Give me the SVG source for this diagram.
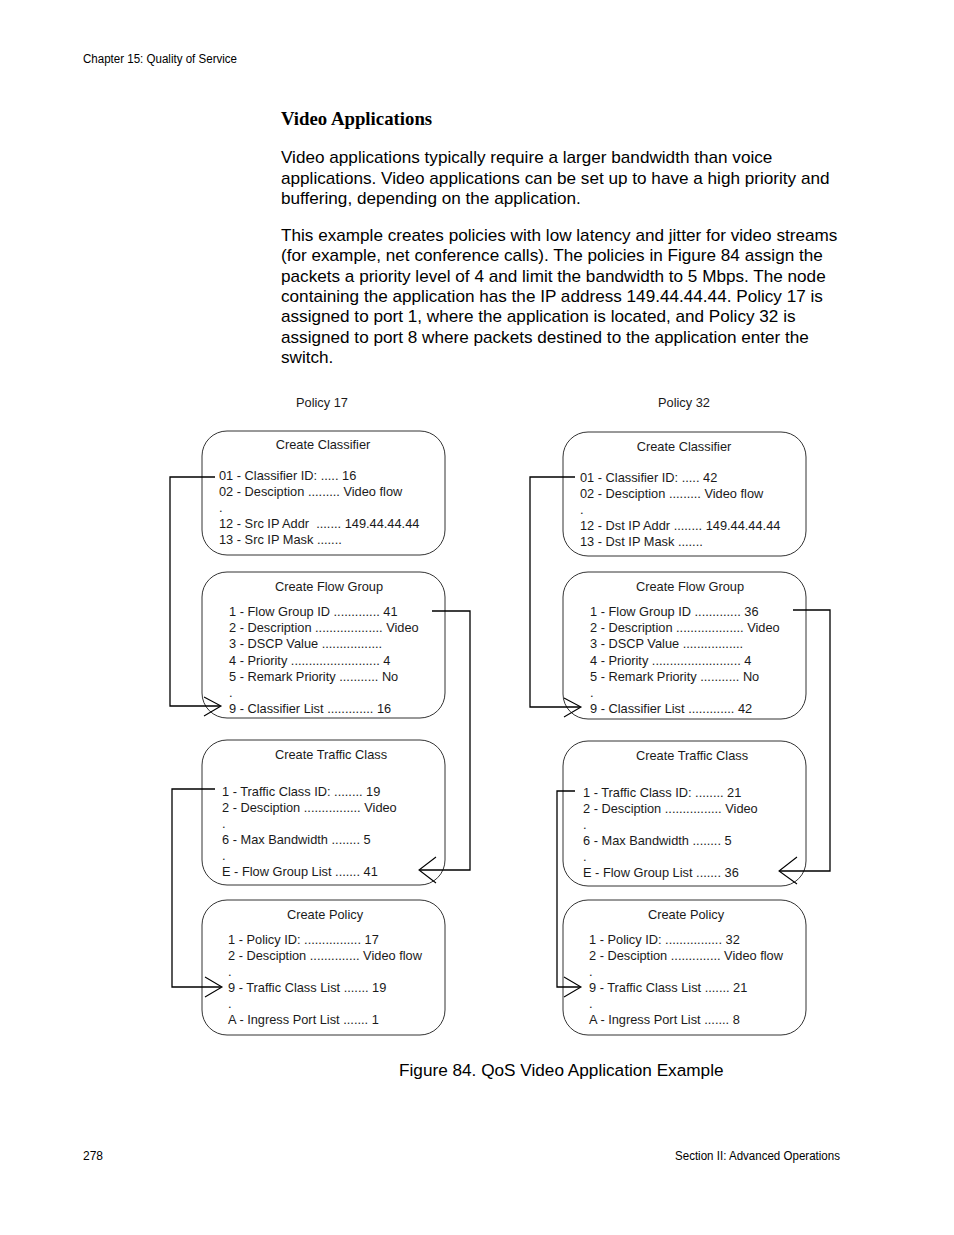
<svg xmlns="http://www.w3.org/2000/svg" width="954" height="1235" viewBox="0 0 954 1235">
<style>
.bg{fill:#fff}
.hdr{font-family:"Liberation Sans",Arial,sans-serif;font-size:12px;fill:#000}
.h{font-family:"Liberation Serif","Times New Roman",serif;font-size:18.8px;font-weight:bold;fill:#000}
.p{font-family:"Liberation Sans",Arial,sans-serif;font-size:17.15px;fill:#000}
.t{font-family:"Liberation Sans",Arial,sans-serif;font-size:12.8px;fill:#1a1a1a}
.tc{font-family:"Liberation Sans",Arial,sans-serif;font-size:12.8px;fill:#1a1a1a;text-anchor:middle}
.box{fill:#fff;stroke:#333;stroke-width:1}
.ln{fill:none;stroke:#000;stroke-width:1.3}
.ar{fill:none;stroke:#000;stroke-width:1.1}
.cap{font-family:"Liberation Sans",Arial,sans-serif;font-size:17.2px;fill:#000}
</style>
<rect class="bg" x="0" y="0" width="954" height="1235"/>
<text class="hdr" x="83" y="63" textLength="154" lengthAdjust="spacingAndGlyphs">Chapter 15: Quality of Service</text>
<text class="hdr" x="83" y="1160">278</text>
<text class="hdr" x="840" y="1160" text-anchor="end" textLength="165" lengthAdjust="spacingAndGlyphs">Section II: Advanced Operations</text>

<text class="h" x="281" y="125">Video Applications</text>
<g class="p">
<text x="281" y="163">Video applications typically require a larger bandwidth than voice</text>
<text x="281" y="184">applications. Video applications can be set up to have a high priority and</text>
<text x="281" y="204">buffering, depending on the application.</text>
<text x="281" y="241">This example creates policies with low latency and jitter for video streams</text>
<text x="281" y="261">(for example, net conference calls). The policies in Figure 84 assign the</text>
<text x="281" y="282">packets a priority level of 4 and limit the bandwidth to 5 Mbps. The node</text>
<text x="281" y="302">containing the application has the IP address 149.44.44.44. Policy 17 is</text>
<text x="281" y="322">assigned to port 1, where the application is located, and Policy 32 is</text>
<text x="281" y="343">assigned to port 8 where packets destined to the application enter the</text>
<text x="281" y="363">switch.</text>
</g>

<text class="tc" x="322" y="407">Policy 17</text>
<text class="tc" x="684" y="407">Policy 32</text>

<g id="l-classifier">
<rect class="box" x="202" y="431" width="243" height="124" rx="25"/>
<text class="tc" x="323" y="449">Create Classifier</text>
<text class="t" x="219" y="480">01 - Classifier ID: ..... 16</text>
<text class="t" x="219" y="496">02 - Desciption ......... Video flow</text>
<text class="t" x="219" y="512">.</text>
<text class="t" x="219" y="528" xml:space="preserve">12 - Src IP Addr  ....... 149.44.44.44</text>
<text class="t" x="219" y="544">13 - Src IP Mask .......</text>
</g>
<g id="l-flowgroup">
<rect class="box" x="202" y="572" width="243" height="146" rx="25"/>
<text class="tc" x="329" y="591">Create Flow Group</text>
<text class="t" x="229" y="616">1 - Flow Group ID ............. 41</text>
<text class="t" x="229" y="632">2 - Description ................... Video</text>
<text class="t" x="229" y="648">3 - DSCP Value .................</text>
<text class="t" x="229" y="665">4 - Priority ......................... 4</text>
<text class="t" x="229" y="681">5 - Remark Priority ........... No</text>
<text class="t" x="229" y="697">.</text>
<text class="t" x="229" y="713">9 - Classifier List ............. 16</text>
</g>
<g id="l-trafficclass">
<rect class="box" x="202" y="740" width="243" height="145" rx="25"/>
<text class="tc" x="331" y="759">Create Traffic Class</text>
<text class="t" x="222" y="796">1 - Traffic Class ID: ........ 19</text>
<text class="t" x="222" y="812">2 - Desciption ................ Video</text>
<text class="t" x="222" y="828">.</text>
<text class="t" x="222" y="844">6 - Max Bandwidth ........ 5</text>
<text class="t" x="222" y="860">.</text>
<text class="t" x="222" y="876">E - Flow Group List ....... 41</text>
</g>
<g id="l-policy">
<rect class="box" x="202" y="900" width="243" height="135" rx="25"/>
<text class="tc" x="325" y="919">Create Policy</text>
<text class="t" x="228" y="944">1 - Policy ID: ................ 17</text>
<text class="t" x="228" y="960">2 - Desciption .............. Video flow</text>
<text class="t" x="228" y="976">.</text>
<text class="t" x="228" y="992">9 - Traffic Class List ....... 19</text>
<text class="t" x="228" y="1008">.</text>
<text class="t" x="228" y="1024">A - Ingress Port List ....... 1</text>
</g>

<g id="r-classifier">
<rect class="box" x="563" y="432" width="243" height="124" rx="25"/>
<text class="tc" x="684" y="451">Create Classifier</text>
<text class="t" x="580" y="482">01 - Classifier ID: ..... 42</text>
<text class="t" x="580" y="498">02 - Desciption ......... Video flow</text>
<text class="t" x="580" y="514">.</text>
<text class="t" x="580" y="530">12 - Dst IP Addr ........ 149.44.44.44</text>
<text class="t" x="580" y="546">13 - Dst IP Mask .......</text>
</g>
<g id="r-flowgroup">
<rect class="box" x="563" y="572" width="243" height="147" rx="25"/>
<text class="tc" x="690" y="591">Create Flow Group</text>
<text class="t" x="590" y="616">1 - Flow Group ID ............. 36</text>
<text class="t" x="590" y="632">2 - Description ................... Video</text>
<text class="t" x="590" y="648">3 - DSCP Value .................</text>
<text class="t" x="590" y="665">4 - Priority ......................... 4</text>
<text class="t" x="590" y="681">5 - Remark Priority ........... No</text>
<text class="t" x="590" y="697">.</text>
<text class="t" x="590" y="713">9 - Classifier List ............. 42</text>
</g>
<g id="r-trafficclass">
<rect class="box" x="563" y="741" width="243" height="145" rx="25"/>
<text class="tc" x="692" y="760">Create Traffic Class</text>
<text class="t" x="583" y="797">1 - Traffic Class ID: ........ 21</text>
<text class="t" x="583" y="813">2 - Desciption ................ Video</text>
<text class="t" x="583" y="829">.</text>
<text class="t" x="583" y="845">6 - Max Bandwidth ........ 5</text>
<text class="t" x="583" y="861">.</text>
<text class="t" x="583" y="877">E - Flow Group List ....... 36</text>
</g>
<g id="r-policy">
<rect class="box" x="563" y="900" width="243" height="135" rx="25"/>
<text class="tc" x="686" y="919">Create Policy</text>
<text class="t" x="589" y="944">1 - Policy ID: ................ 32</text>
<text class="t" x="589" y="960">2 - Desciption .............. Video flow</text>
<text class="t" x="589" y="976">.</text>
<text class="t" x="589" y="992">9 - Traffic Class List ....... 21</text>
<text class="t" x="589" y="1008">.</text>
<text class="t" x="589" y="1024">A - Ingress Port List ....... 8</text>
</g>

<g id="connectors">
<polyline class="ln" points="215,477 170,477 170,706 220,706"/>
<polyline class="ar" points="204,697 221,706 204,716"/>
<polyline class="ln" points="432,611 470,611 470,870 420,870"/>
<polyline class="ar" points="436,857 419,870 436,883"/>
<polyline class="ln" points="215,789 172,789 172,987 221,987"/>
<polyline class="ar" points="205,977 222,987 205,997"/>
<polyline class="ln" points="575,477 530,477 530,707 580,707"/>
<polyline class="ar" points="564,698 581,707 564,717"/>
<polyline class="ln" points="793,610 830,610 830,871 780,871"/>
<polyline class="ar" points="797,857 779,871 797,884"/>
<polyline class="ln" points="575,791 557,791 557,987 580,987"/>
<polyline class="ar" points="564,977 581,987 564,997"/>
</g>

<text class="cap" x="399" y="1076">Figure 84. QoS Video Application Example</text>
</svg>
